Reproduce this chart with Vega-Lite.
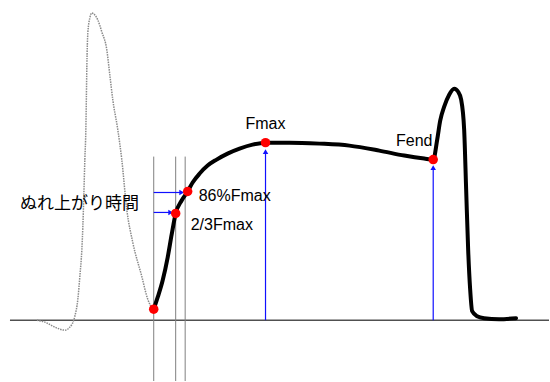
{
  "$schema": "https://vega.github.io/schema/vega-lite/v6.json",
  "width": 550,
  "height": 382,
  "autosize": {"type": "fit", "contains": "padding"},
  "padding": 0,
  "background": "white",
  "config": {"view": {"stroke": null}},
  "datasets": {
    "prev": [
      {"i":0,"t":37,"f":0},{"i":1,"t":45,"f":-2},{"i":2,"t":55,"f":-7},{"i":3,"t":65,"f":-10},{"i":4,"t":70,"f":-7},
      {"i":5,"t":75,"f":4},{"i":6,"t":78,"f":21},{"i":7,"t":80,"f":44},{"i":8,"t":82,"f":71},{"i":9,"t":83,"f":94},
      {"i":10,"t":84,"f":126},{"i":11,"t":85,"f":161},{"i":12,"t":86,"f":191},{"i":13,"t":86.5,"f":221},{"i":14,"t":87,"f":254},
      {"i":15,"t":88,"f":288},{"i":16,"t":90,"f":303},{"i":17,"t":92,"f":308},{"i":18,"t":95,"f":306},{"i":19,"t":98,"f":301},
      {"i":20,"t":102,"f":289},{"i":21,"t":107,"f":271},{"i":22,"t":110,"f":246},{"i":23,"t":113,"f":221},{"i":24,"t":118,"f":191},
      {"i":25,"t":122,"f":161},{"i":26,"t":127,"f":111},{"i":27,"t":133,"f":78},{"i":28,"t":142,"f":44},{"i":29,"t":148,"f":21},
      {"i":30,"t":153,"f":11}
    ],
    "main": [
      {"i":0,"t":154,"f":11},{"i":1,"t":158,"f":23},{"i":2,"t":163,"f":40},{"i":3,"t":168,"f":63},{"i":4,"t":172,"f":86},
      {"i":5,"t":176,"f":107},{"i":6,"t":182,"f":120},{"i":7,"t":188,"f":129},{"i":8,"t":193,"f":138},{"i":9,"t":200,"f":147},
      {"i":10,"t":208,"f":155},{"i":11,"t":217,"f":161},{"i":12,"t":228,"f":167},{"i":13,"t":240,"f":172},{"i":14,"t":253,"f":176},
      {"i":15,"t":266,"f":178},{"i":16,"t":290,"f":178},{"i":17,"t":320,"f":177},{"i":18,"t":350,"f":175},{"i":19,"t":380,"f":170},
      {"i":20,"t":405,"f":165},{"i":21,"t":425,"f":162},{"i":22,"t":434,"f":161},{"i":23,"t":438,"f":181},{"i":24,"t":441,"f":200},
      {"i":25,"t":445,"f":214},{"i":26,"t":450,"f":226},{"i":27,"t":455,"f":232},{"i":28,"t":459,"f":229},{"i":29,"t":462,"f":221},
      {"i":30,"t":465,"f":191},{"i":31,"t":467,"f":131},{"i":32,"t":469,"f":71},{"i":33,"t":471,"f":31},{"i":34,"t":473,"f":9},
      {"i":35,"t":478,"f":4},{"i":36,"t":485,"f":2},{"i":37,"t":500,"f":1},{"i":38,"t":517,"f":2}
    ],
    "dots": [
      {"t":154,"f":11},{"t":176,"f":107},{"t":188,"f":129},{"t":266,"f":178},{"t":434,"f":161}
    ],
    "guides": [
      {"t":154,"f":-61,"f2":164},{"t":176,"f":-61,"f2":164},{"t":185.5,"f":-61,"f2":164}
    ],
    "varrows": [
      {"t":266,"f":0,"f2":169},{"t":434,"f":0,"f2":153}
    ],
    "harrows": [
      {"t":154,"t2":182,"f":128},{"t":154,"t2":171,"f":108}
    ],
    "clabels": [
      {"t":266,"f":197,"label":"Fmax"},
      {"t":415,"f":180,"label":"Fend"}
    ],
    "llabels": [
      {"t":199,"f":124,"label":"86%Fmax"},
      {"t":191,"f":95,"label":"2/3Fmax"}
    ]
  },
  "encoding": {
    "x": {"field": "t", "type": "quantitative", "scale": {"domain": [0, 550], "nice": false, "zero": false}, "axis": null},
    "y": {"field": "f", "type": "quantitative", "scale": {"domain": [-61, 321], "nice": false, "zero": false}, "axis": null}
  },
  "layer": [
    {
      "data": {"values": [{"t": 10, "t2": 550, "f": 0}]},
      "mark": {"type": "rule", "color": "#505050", "strokeWidth": 1.5},
      "encoding": {"x2": {"field": "t2"}}
    },
    {
      "data": {"name": "guides"},
      "mark": {"type": "rule", "color": "#808080", "strokeWidth": 1},
      "encoding": {"y2": {"field": "f2"}}
    },
    {
      "data": {"name": "prev"},
      "mark": {"type": "line", "color": "#8a8a8a", "strokeWidth": 1.5, "strokeDash": [1.5, 1], "interpolate": "monotone"},
      "encoding": {"order": {"field": "i"}}
    },
    {
      "data": {"name": "varrows"},
      "mark": {"type": "rule", "color": "#1010ff", "strokeWidth": 1.2},
      "encoding": {"y2": {"field": "f2"}}
    },
    {
      "data": {"name": "varrows"},
      "mark": {"type": "point", "shape": "triangle-up", "filled": true, "color": "#1010ff", "size": 30, "opacity": 1},
      "encoding": {"y": {"field": "f2", "type": "quantitative"}}
    },
    {
      "data": {"name": "harrows"},
      "mark": {"type": "rule", "color": "#1010ff", "strokeWidth": 1.2},
      "encoding": {"x2": {"field": "t2"}}
    },
    {
      "data": {"name": "harrows"},
      "mark": {"type": "point", "shape": "triangle-right", "filled": true, "color": "#1010ff", "size": 30, "opacity": 1},
      "encoding": {"x": {"field": "t2", "type": "quantitative"}}
    },
    {
      "data": {"name": "main"},
      "mark": {"type": "line", "color": "#000000", "strokeWidth": 4, "interpolate": "monotone", "strokeCap": "round"},
      "encoding": {"order": {"field": "i"}}
    },
    {
      "data": {"name": "dots"},
      "mark": {"type": "point", "shape": "circle", "filled": true, "color": "#ff0000", "size": 90, "opacity": 1}
    },
    {
      "data": {"name": "clabels"},
      "mark": {"type": "text", "font": "Liberation Sans", "fontSize": 16, "color": "#000000", "align": "center", "baseline": "middle"},
      "encoding": {"text": {"field": "label"}}
    },
    {
      "data": {"name": "llabels"},
      "mark": {"type": "text", "font": "Liberation Sans", "fontSize": 16, "color": "#000000", "align": "left", "baseline": "middle"},
      "encoding": {"text": {"field": "label"}}
    },
    {
      "data": {"values": [{"t": 20, "f": 116, "label": "ぬれ上がり時間"}]},
      "mark": {"type": "text", "font": "Noto Sans CJK JP", "fontSize": 17, "color": "#000000", "align": "left", "baseline": "middle"},
      "encoding": {"text": {"field": "label"}}
    }
  ]
}
